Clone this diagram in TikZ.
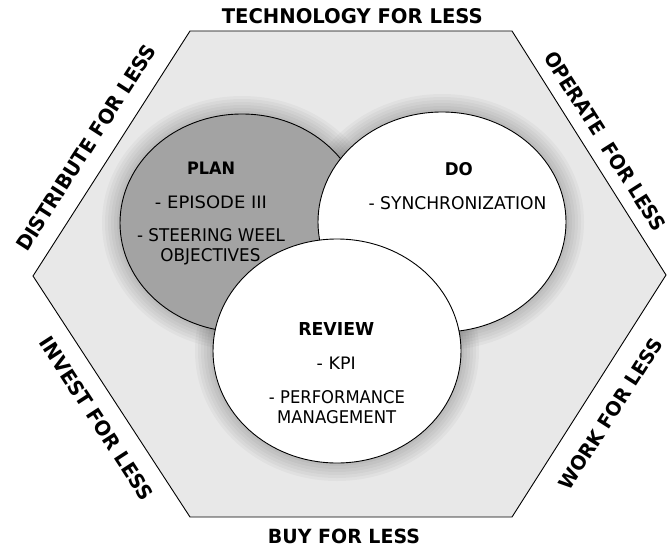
\documentclass[tikz,border=0pt]{standalone}
\usepackage{fontspec}
\setmainfont{DejaVu Sans}
\usepackage{graphicx}
\usetikzlibrary{shapes.geometric}
\tikzset{
  fitlbl/.style={inner sep=0pt, outer sep=0pt},
  hexedge/.style={draw=black, line width=0.9pt, fill=black!9, line join=miter},
  bubble/.style={ellipse, draw=black, line width=0.9pt, inner sep=0pt},
  halo/.style={fill=black, opacity=0.03},
}
\newcommand{\fitbox}[3]{\resizebox{#1pt}{#2pt}{#3}}
\begin{document}
\begin{tikzpicture}[x=1pt,y=1pt]
\useasboundingbox (0,0) rectangle (668,-551);
% hexagon
\coordinate (h1) at (190,-31);
\coordinate (h2) at (512,-31);
\coordinate (h3) at (666,-275);
\coordinate (h4) at (512,-517);
\coordinate (h5) at (190,-517);
\coordinate (h6) at (33,-276);
\draw[hexedge] (h1)--(h2)--(h3)--(h4)--(h5)--(h6)--cycle;
% soft halos
\foreach \k in {1,...,6}{
  \fill[halo] (242,-223) ellipse [x radius=122+3*\k, y radius=109+3*\k];
  \fill[halo] (442,-222) ellipse [x radius=124+3*\k, y radius=110+3*\k];
  \fill[halo] (337,-351) ellipse [x radius=124+3*\k, y radius=112+3*\k];
}
% bubbles
\node[bubble, fill=black!36, minimum width=244pt, minimum height=218pt] (plan) at (242,-223) {};
\node[bubble, fill=white, minimum width=248pt, minimum height=220pt] (do) at (442,-222) {};
\node[bubble, fill=white, minimum width=248pt, minimum height=224pt] (review) at (337,-351) {};
% bubble texts
\node[fitlbl] (tplan) at (211,-167.8) {\fitbox{48}{12.5}{\bfseries PLAN}};
\node[fitlbl] (tepi) at (211,-202) {\fitbox{112}{12.7}{- EPISODE III}};
\node[fitlbl] (tsteer) at (211,-235) {\fitbox{148}{13}{- STEERING WEEL}};
\node[fitlbl] (tobj) at (210.5,-257) {\fitbox{100}{13}{OBJECTIVES}};
\node[fitlbl] (tdo) at (458.8,-169) {\fitbox{28}{13}{\bfseries DO}};
\node[fitlbl] (tsync) at (457.5,-202.7) {\fitbox{178}{13}{- SYNCHRONIZATION}};
\node[fitlbl] (trev) at (336.3,-329) {\fitbox{76}{13}{\bfseries REVIEW}};
\node[fitlbl] (tkpi) at (336.2,-363.3) {\fitbox{39}{12.5}{- KPI}};
\node[fitlbl] (tperf) at (337,-396.7) {\fitbox{136}{13}{- PERFORMANCE}};
\node[fitlbl] (tman) at (336.7,-416.7) {\fitbox{119}{13}{MANAGEMENT}};
% edge labels
\node[fitlbl] (ltech) at (352.3,-15.8) {\fitbox{261}{15}{\bfseries TECHNOLOGY FOR LESS}};
\node[fitlbl] (lbuy) at (344,-536.7) {\fitbox{152}{14.5}{\bfseries BUY FOR LESS}};
\node[fitlbl, rotate=57.3] (ldist) at (86,-148) {\fitbox{240}{15}{\bfseries DISTRIBUTE FOR LESS}};
\node[fitlbl, rotate=-57.6] (loper) at (605,-141) {\fitbox{208}{15}{\bfseries OPERATE\ \ FOR LESS}};
\node[fitlbl, rotate=-57.0] (linv) at (96.5,-418.5) {\fitbox{190}{15}{\bfseries INVEST FOR LESS}};
\node[fitlbl, rotate=57.5] (lwork) at (610.5,-414) {\fitbox{175}{14.5}{\bfseries WORK FOR LESS}};
\end{tikzpicture}
\end{document}
